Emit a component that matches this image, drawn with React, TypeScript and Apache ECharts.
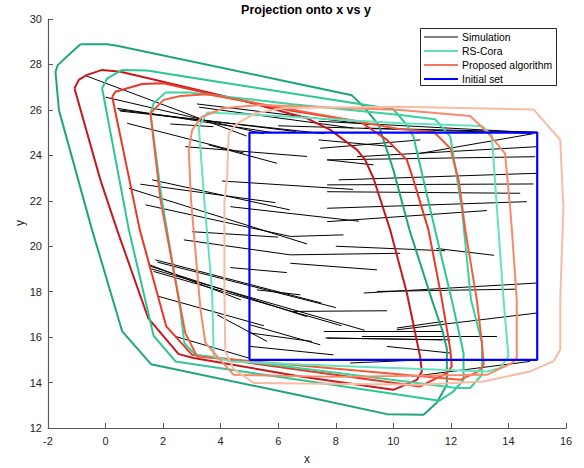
import React, { useEffect, useRef } from "react";
import * as echarts from "echarts";

// Axis ticks
const xTickValues = [-2, 0, 2, 4, 6, 8, 10, 12, 14, 16];
const yTickValues = [12, 14, 16, 18, 20, 22, 24, 26, 28, 30];

// Initial set (box)
const initialSet = [[5, 15], [15, 15], [15, 25], [5, 25], [5, 15]];

// RS-Cora reachable-set outlines (outer to inner)
const rsCora1 = [[-0.87,28.89],[0.06,28.89],[0.4,28.82],[6.42,27.22],[8.56,26.64],[8.97,26.14],[9.49,25.34],[10.0,23.36],[10.56,20.72],[11.34,17.64],[11.7,16.3],[11.86,15.5],[11.86,13.9],[11.5,13.1],[11.05,12.58],[9.78,12.61],[6.77,13.43],[1.58,14.81],[0.58,16.25],[-0.47,20.72],[-1.62,25.99],[-1.74,27.68],[-1.66,27.97],[-1.22,28.49],[-0.87,28.89]];
const rsCora2 = [[0.58,27.76],[1.44,27.73],[4.0,27.22],[10.0,26.03],[10.47,25.34],[10.7,24.82],[11.45,20.72],[12.03,17.64],[12.44,15.3],[12.44,14.12],[12.09,13.61],[11.6,13.2],[6.77,14.11],[2.43,14.93],[1.67,16.06],[0.81,20.72],[-0.12,26.95],[0.06,27.39],[0.58,27.76]];
const rsCora3 = [[2.08,26.76],[2.95,26.76],[6.5,26.25],[10.24,25.78],[11.45,25.59],[11.98,24.82],[12.38,21.67],[12.7,17.64],[13.08,15.74],[13.08,14.34],[12.67,13.76],[12.2,13.76],[6.77,14.63],[3.12,15.22],[2.74,15.74],[2.6,17.2],[1.96,22.03],[1.56,25.85],[1.67,26.29],[2.08,26.76]];
const rsCora4 = [[3.53,25.88],[5.38,25.78],[10.24,25.41],[13.08,25.29],[13.42,24.9],[13.6,21.67],[13.83,17.64],[14.0,15.15],[13.71,14.64],[13.25,14.49],[6.77,14.8],[4.34,14.93],[3.76,15.15],[3.7,18.08],[3.43,22.03],[3.24,25.26],[3.53,25.88]];

// Proposed algorithm outlines (outer to inner)
const proposed1 = [[-1.08,26.95],[-0.93,27.32],[-0.66,27.53],[-0.12,27.76],[0.52,27.68],[4.68,26.44],[7.0,25.63],[7.81,25.12],[8.74,24.24],[9.02,23.8],[9.31,22.99],[9.89,20.72],[10.47,17.94],[10.93,15.15],[10.99,14.49],[10.82,14.12],[10.0,13.68],[6.77,14.27],[3.06,15.08],[2.54,15.25],[1.48,16.84],[0.4,20.72],[-0.18,22.92],[-1.08,26.95]];
const proposed2 = [[0.23,26.58],[0.34,26.8],[1.27,27.14],[2.02,27.17],[4.0,26.6],[6.31,26.0],[8.85,25.48],[9.78,24.68],[10.47,23.8],[10.7,22.92],[11.22,20.72],[11.69,17.64],[11.98,15.44],[12.03,14.71],[11.86,14.42],[10.93,13.83],[6.77,14.55],[3.01,15.22],[2.11,16.47],[1.19,20.72],[0.23,26.58]];
const proposed3 = [[1.56,25.85],[2.02,26.44],[2.6,26.61],[3.53,26.69],[6.5,26.01],[10.24,25.15],[11.4,25.04],[11.98,24.31],[12.27,22.92],[12.5,20.72],[12.9,17.64],[13.08,15.74],[13.14,14.78],[12.96,14.49],[12.32,14.12],[6.77,14.75],[3.18,15.15],[2.77,16.18],[2.49,18.08],[1.91,22.03],[1.56,25.85]];
const proposed4 = [[2.89,24.24],[3.01,25.12],[3.35,25.7],[4.1,26.07],[5.38,26.22],[10.24,26.0],[12.67,25.73],[13.3,24.97],[13.88,24.09],[14.06,21.67],[14.12,20.72],[14.29,17.64],[14.29,15.08],[14.12,14.86],[13.25,14.34],[8.0,14.25],[4.45,14.34],[3.47,15.74],[3.3,17.2],[2.97,22.03],[2.89,24.24]];
const proposed5 = [[4.28,24.97],[4.57,25.4],[5.2,25.85],[6.2,26.08],[10.24,26.14],[14.87,26.02],[15.8,24.68],[15.91,21.67],[15.8,17.64],[15.8,15.44],[15.56,14.93],[14.75,14.49],[13.13,14.05],[10.93,13.9],[5.15,13.98],[4.45,14.6],[4.16,15.37],[4.13,18.08],[4.13,22.03],[4.22,22.92],[4.28,24.97]];

// Simulation trajectories: [x1, y1, x2, y2]
const simulations = [
  [-0.66,27.49,4.9,24.85],[0.0,26.56,5.5,24.95],[0.4,26.07,5.8,25.0],[0.45,26.0,6.6,25.05],
  [0.5,25.95,7.6,24.95],[0.75,25.41,4.8,24.1],[2.25,25.38,3.75,25.26],[3.18,26.26,9.2,25.35],
  [3.25,26.12,8.6,25.2],[2.77,24.38,7.0,23.95],[3.58,24.46,5.96,23.65],
  [7.4,25.5,14.9,25.0],[9.0,25.2,15.0,25.02],[6.0,25.3,14.8,24.97],[8.74,23.94,14.99,24.38],
  [7.4,24.68,10.0,24.38],[7.46,24.31,10.94,24.68],[10.94,24.09,14.85,24.95],[7.7,23.8,14.93,23.94],
  [8.1,22.92,14.99,23.21],[7.7,22.7,14.87,22.74],[7.7,22.4,14.41,22.33],[7.7,21.67,14.64,21.96],
  [7.7,21.08,13.25,21.57],[7.7,23.8,9.31,23.58],
  [4.05,22.87,8.6,22.5],[1.62,22.92,6.4,21.6],[1.21,22.73,5.9,21.92],[0.81,22.55,7.0,20.1],
  [1.39,21.82,6.42,20.43],[4.34,21.74,8.8,21.1],[3.0,20.64,6.0,20.4],[2.72,20.28,6.42,19.62],
  [6.42,19.62,10.24,19.69],[6.42,20.43,8.27,20.5],[8.0,20.0,11.8,19.8],[11.5,19.9,13.5,19.6],
  [1.73,19.4,7.5,17.5],[1.8,19.3,8.0,17.3],[1.5,19.14,7.0,16.9],[1.6,19.0,9.0,16.3],
  [1.67,18.89,8.2,16.5],[1.85,17.79,5.5,16.5],[2.43,16.03,4.97,15.08],[3.88,16.98,5.61,15.81],
  [4.34,19.06,6.3,18.84],[5.26,18.08,6.77,17.86],[1.5,19.2,4.7,17.64],
  [6.42,19.25,9.43,18.96],[6.42,17.13,9.78,17.16],[8.97,17.94,14.99,18.38],[9.43,18.01,14.29,18.11],
  [10.12,16.32,14.99,17.06],[7.58,16.25,11.74,16.25],[8.91,16.03,13.6,16.03],[7.64,15.96,11.69,15.88],
  [10.65,14.27,14.75,14.93],[8.5,14.86,11.05,15.0],[5.03,16.18,7.17,15.81],[5.03,16.54,7.46,15.66],
  [5.03,15.59,7.92,15.22],[9.78,15.59,11.98,15.3],[10.12,16.4,11.74,16.69],[7.7,15.96,11.98,15.88]
];

const polySeries = (name: string, data: number[][], color: string, width = 2) => ({
  name,
  type: "line",
  data,
  showSymbol: false,
  symbol: "none",
  smooth: false,
  silent: true,
  lineStyle: { color, width },
  itemStyle: { color },
  z: 3,
});

export default function App() {
  const ref = useRef<HTMLDivElement>(null);
  useEffect(() => {
    const chart = echarts.init(ref.current as HTMLDivElement, null, { renderer: "svg" });
    const axisColor = "#5a5a5a";
    const font = "Arial, 'Liberation Sans', Helvetica, sans-serif";
    const legendRows = [
      { label: "Simulation", color: "#000000", width: 1 },
      { label: "RS-Cora", color: "#36d6a0", width: 1.5 },
      { label: "Proposed algorithm", color: "#f0442e", width: 1.5 },
      { label: "Initial set", color: "#0000ff", width: 2 },
    ];
    const legendGraphics: any[] = [
      {
        type: "rect",
        shape: { x: 420.5, y: 28.5, width: 136, height: 57 },
        style: { fill: "#ffffff", stroke: "#262626", lineWidth: 1 },
        z: 100,
      },
    ];
    legendRows.forEach((r, i) => {
      const yy = 37 + i * 14;
      legendGraphics.push({
        type: "line",
        shape: { x1: 424, y1: yy, x2: 458, y2: yy },
        style: { stroke: r.color, lineWidth: r.width },
        z: 101,
      });
      legendGraphics.push({
        type: "text",
        x: 462,
        y: yy,
        style: { text: r.label, fill: "#000000", font: `10.4px ${font}`, textAlign: "left", textVerticalAlign: "middle" },
        z: 101,
      });
    });

    const option: any = {
      animation: false,
      backgroundColor: "#ffffff",
      grid: { left: 48, right: 18, top: 19, bottom: 40, containLabel: false },
      xAxis: {
        type: "value",
        min: -2,
        max: 16,
        interval: 2,
        axisLine: { show: true, onZero: false, lineStyle: { color: axisColor, width: 1.2 } },
        axisTick: { show: true, inside: true, length: 5, lineStyle: { color: axisColor } },
        axisLabel: { color: "#262626", fontSize: 11, fontFamily: font, margin: 7,
          formatter: (v: number) => (xTickValues.includes(v) ? String(v) : "") },
        splitLine: { show: false },
      },
      yAxis: {
        type: "value",
        min: 12,
        max: 30,
        interval: 2,
        axisLine: { show: true, onZero: false, lineStyle: { color: axisColor, width: 1.2 } },
        axisTick: { show: true, inside: true, length: 5, lineStyle: { color: axisColor } },
        axisLabel: { color: "#262626", fontSize: 11, fontFamily: font, margin: 6,
          formatter: (v: number) => (yTickValues.includes(v) ? String(v) : "") },
        splitLine: { show: false },
      },
      graphic: [
        {
          type: "text",
          x: 306,
          y: 10,
          style: { text: "Projection onto x vs y", fill: "#000000", font: `bold 12.5px ${font}`, textAlign: "center", textVerticalAlign: "middle" },
        },
        {
          type: "text",
          x: 307,
          y: 459,
          style: { text: "x", fill: "#262626", font: `12px ${font}`, textAlign: "center", textVerticalAlign: "middle" },
        },
        {
          type: "text",
          x: 20,
          y: 223,
          rotation: Math.PI / 2,
          style: { text: "y", fill: "#262626", font: `12px ${font}`, textAlign: "center", textVerticalAlign: "middle" },
        },
        ...legendGraphics,
      ],
      series: [
        {
          name: "Simulation",
          type: "lines",
          coordinateSystem: "cartesian2d",
          silent: true,
          z: 2,
          lineStyle: { color: "#000000", width: 1, opacity: 1 },
          data: simulations.map((s) => ({ coords: [[s[0], s[1]], [s[2], s[3]]] })),
        },
        polySeries("RS-Cora 1", rsCora1, "#1fa57c"),
        polySeries("Proposed 1", proposed1, "#c8171c"),
        polySeries("RS-Cora 2", rsCora2, "#2cc790"),
        polySeries("Proposed 2", proposed2, "#e8382a"),
        polySeries("RS-Cora 3", rsCora3, "#38d39e"),
        polySeries("Proposed 3", proposed3, "#f15d3c"),
        polySeries("RS-Cora 4", rsCora4, "#62e2bd"),
        polySeries("Proposed 4", proposed4, "#f58b6c"),
        polySeries("Proposed 5", proposed5, "#f9bba3"),
        { ...polySeries("Initial set", initialSet, "#0000ff", 2.2), z: 4 },
      ],
    };
    chart.setOption(option);
    return () => chart.dispose();
  }, []);
  return <div ref={ref} style={{ position: "fixed", left: 0, top: 0, width: 584, height: 468 }} />;
}
